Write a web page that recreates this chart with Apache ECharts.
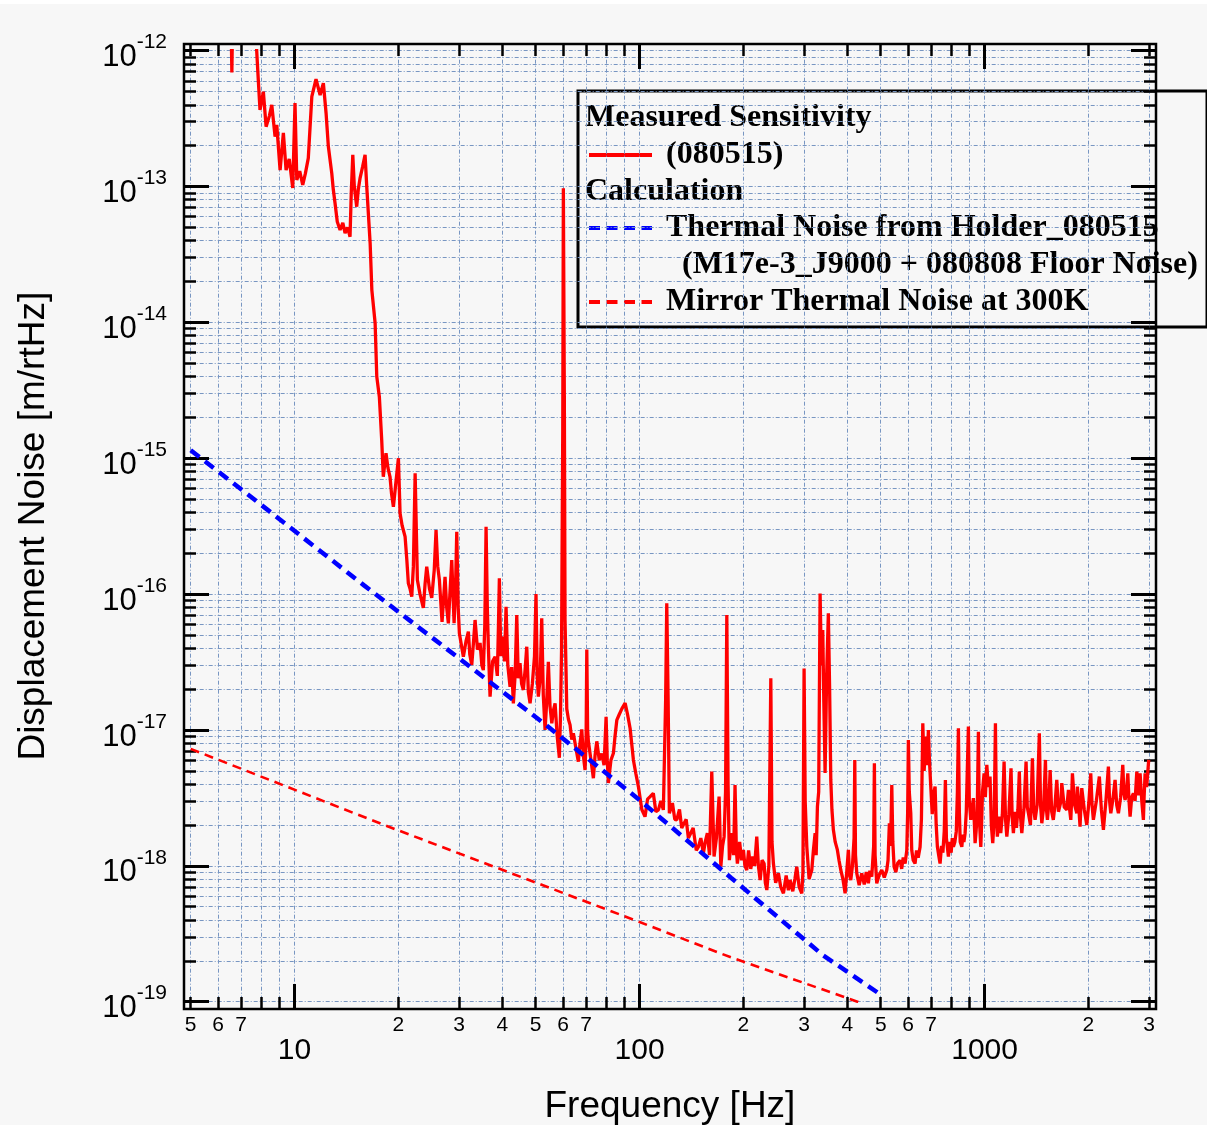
<!DOCTYPE html>
<html>
<head>
<meta charset="utf-8">
<title>Displacement Noise Spectrum</title>
<script src="https://cdn.jsdelivr.net/npm/echarts@6/dist/echarts.min.js"></script>
<style>
  html, body { margin: 0; padding: 0; background: #f7f7f7; }
  #chart { width: 1207px; height: 1125px; }
</style>
</head>
<body>
<div id="chart"></div>
<script>
// Measured displacement noise spectrum (080515): [frequency Hz, amplitude m/rtHz]
const measuredSpectrum = [
  [5.0, 3.0e-12], [6.0, 2.2e-12], [6.54, 2.0e-12], [6.58, 6.9e-13], [6.62, 2.0e-12], [7.4, 2.0e-12],
  [7.70, 1.5e-12], [7.85, 6.1e-13], [7.94, 3.66e-13], [8.12, 4.99e-13], [8.27, 2.76e-13], [8.45, 3.3e-13],
  [8.59, 3.99e-13], [8.78, 2.33e-13], [8.88, 2.84e-13], [9.08, 1.32e-13], [9.28, 2.48e-13], [9.45, 1.32e-13],
  [9.65, 1.6e-13], [9.88, 9.75e-14], [10.03, 4.12e-13], [10.15, 1.12e-13], [10.35, 1.3e-13], [10.56, 1.03e-13],
  [10.75, 1.25e-13], [10.96, 1.62e-13], [11.22, 4.59e-13], [11.54, 6.17e-13], [11.86, 4.72e-13], [12.12, 5.76e-13],
  [12.34, 3.48e-13], [12.53, 1.97e-13], [12.82, 1.25e-13], [12.95, 9.5e-14], [13.10, 7.56e-14], [13.3, 5.5e-14],
  [13.55, 4.79e-14], [13.8, 5.4e-14], [14.01, 4.55e-14], [14.25, 5.0e-14], [14.48, 4.27e-14], [14.6, 9.0e-14],
  [14.75, 1.71e-13], [14.9, 1.0e-13], [15.14, 7.11e-14], [15.3, 9.5e-14], [15.49, 1.16e-13], [15.75, 1.4e-13],
  [16.01, 1.71e-13], [16.19, 1.0e-13], [16.56, 3.84e-14], [16.75, 1.73e-14], [17.12, 9.9e-15], [17.31, 3.99e-15],
  [17.61, 2.84e-15], [17.89, 1.36e-15], [18.08, 7.31e-16], [18.25, 9.0e-16], [18.41, 1.09e-15], [18.65, 8.5e-16],
  [18.91, 7.31e-16], [19.1, 5.5e-16], [19.34, 4.40e-16], [19.65, 6.5e-16], [20.0, 1.0e-15], [20.22, 3.93e-16],
  [20.5, 3.2e-16], [20.91, 2.65e-16], [21.15, 1.8e-16], [21.37, 1.20e-16], [21.6, 1.1e-16], [21.86, 9.58e-17],
  [22.1, 1.6e-16], [22.36, 7.75e-16], [22.70, 1.27e-16], [23.1, 1.0e-16], [23.62, 7.91e-17], [23.9, 1.2e-16],
  [24.16, 1.59e-16], [24.6, 1.1e-16], [24.98, 9.37e-17], [25.4, 1.5e-16], [25.71, 2.96e-16], [26.0, 1.6e-16],
  [26.29, 1.27e-16], [26.76, 6.24e-17], [27.30, 1.34e-16], [27.6, 8.0e-17], [27.91, 6.10e-17], [28.2, 1.0e-16],
  [28.55, 1.78e-16], [29.0, 6.1e-17], [29.3, 1.2e-16], [29.52, 2.88e-16], [29.8, 8.0e-17], [30.04, 5.15e-17],
  [30.45, 4.2e-17], [30.85, 3.46e-17], [31.4, 4.5e-17], [31.90, 5.29e-17], [32.2, 3.6e-17], [32.63, 3.01e-17],
  [33.0, 4.4e-17], [33.36, 6.45e-17], [33.9, 3.9e-17], [34.49, 4.37e-17], [34.9, 3.0e-17], [35.25, 2.76e-17],
  [35.6, 6.0e-17], [35.90, 3.13e-16], [36.2, 8.0e-17], [36.45, 4.10e-17], [36.87, 1.76e-17], [37.5, 3.2e-17],
  [38.13, 3.46e-17], [38.7, 2.5e-17], [39.0, 6.0e-17], [39.23, 1.31e-16], [39.6, 3.5e-17], [40.13, 4.86e-17],
  [40.6, 3.2e-17], [41.02, 8.08e-17], [41.5, 3.0e-17], [42.13, 2.08e-17], [42.6, 2.9e-17], [43.07, 1.57e-17],
  [43.6, 2.6e-17], [44.06, 7.02e-17], [44.5, 2.4e-17], [45.03, 3.10e-17], [45.5, 2.2e-17], [46.04, 1.97e-17],
  [46.6, 2.8e-17], [47.10, 4.10e-17], [47.6, 1.9e-17], [48.15, 1.57e-17], [48.9, 2.2e-17], [49.6, 3.5e-17],
  [50.1, 1.0e-16], [50.5, 2.5e-17], [50.89, 1.76e-17], [51.5, 2.4e-17], [52.05, 6.64e-17], [52.6, 1.8e-17],
  [53.22, 1.0e-17], [53.8, 1.6e-17], [54.40, 3.18e-17], [55.0, 1.5e-17], [55.67, 1.12e-17], [56.3, 1.4e-17],
  [56.90, 1.57e-17], [57.7, 9.0e-18], [58.55, 6.25e-18], [59.0, 1.3e-17], [59.41, 3.88e-17], [59.89, 1.62e-15],
  [60.13, 9.7e-14], [60.53, 2.69e-15], [60.81, 6.45e-17], [61.52, 1.43e-17], [62.2, 1.2e-17], [62.88, 1.09e-17],
  [63.6, 8.5e-18], [64.28, 9.46e-18], [65.3, 7.5e-18], [66.46, 5.84e-18], [67.2, 8.0e-18], [67.99, 1.01e-17],
  [68.7, 6.5e-18], [69.50, 5.08e-18], [70.0, 9.0e-18], [70.31, 3.91e-17], [70.7, 1.0e-17], [71.06, 8.25e-18],
  [72.3, 6.0e-18], [73.47, 4.42e-18], [74.3, 6.5e-18], [75.16, 8.25e-18], [76.4, 6.0e-18], [77.71, 6.70e-18],
  [78.9, 5.5e-18], [79.98, 1.25e-17], [80.6, 6.0e-18], [81.21, 4.07e-18], [82.6, 6.0e-18], [83.97, 6.74e-18],
  [84.9, 9.0e-18], [85.90, 1.18e-17], [87.3, 1.3e-17], [88.82, 1.43e-17], [90.81, 1.58e-17], [92.3, 1.3e-17],
  [93.87, 1.03e-17], [95.96, 6.02e-18], [97.5, 4.8e-18], [99.22, 3.83e-18],
  [101.5, 2.6e-18], [103.7, 2.30e-18], [105.5, 3.1e-18], [107.3, 3.23e-18], [109.6, 3.42e-18], [111.5, 2.5e-18],
  [113.4, 2.58e-18], [115.3, 3.0e-18], [117.2, 2.58e-18], [119.0, 1.66e-17], [119.9, 8.56e-17], [121.0, 1.66e-17],
  [122.0, 2.44e-18], [124.5, 2.9e-18], [126.5, 2.2e-18], [128.2, 2.18e-18], [130.5, 2.6e-18], [132.5, 1.9e-18],
  [134.0, 1.94e-18], [136.5, 2.2e-18], [138.5, 1.6e-18], [140.1, 1.55e-18], [143.0, 1.9e-18], [146.0, 1.3e-18],
  [148.1, 1.38e-18], [150.5, 1.6e-18], [153.1, 1.24e-18], [155.0, 1.5e-18], [157.2, 1.74e-18], [159.5, 1.2e-18],
  [161.9, 4.94e-18], [164.4, 1.17e-18], [167.0, 1.6e-18], [170.0, 3.23e-18], [172.0, 9.86e-19], [174.0, 1.4e-18],
  [175.8, 1.64e-18], [177.5, 3.5e-18], [179.0, 7.02e-17], [180.5, 4.0e-18], [182.1, 1.10e-18], [185.0, 1.74e-18],
  [187.3, 1.2e-18], [189.1, 3.94e-18], [190.8, 1.3e-18], [192.1, 1.04e-18], [195.0, 1.5e-18], [197.5, 1.1e-18],
  [200.0, 1.31e-18], [202.0, 1.0e-18], [204.5, 9.32e-19], [207.0, 1.3e-18], [210.0, 9.5e-19], [212.8, 1.17e-18],
  [215.5, 1.0e-18], [218.6, 1.64e-18], [221.0, 1.0e-18], [223.6, 7.87e-19], [226.5, 1.1e-18], [229.6, 1.04e-18],
  [231.5, 7.5e-19], [233.8, 6.64e-19], [237.0, 1.0e-18], [240.1, 2.40e-17], [242.0, 1.5e-18], [244.3, 1.04e-18],
  [248.0, 7.5e-19], [252.6, 8.81e-19], [256.5, 7.0e-19], [261.2, 6.28e-19], [266.0, 8.5e-19], [270.0, 6.6e-19],
  [273.0, 7.87e-19], [278.0, 6.5e-19], [282.0, 8.0e-19], [285.5, 9.86e-19], [290.0, 7.0e-19], [295.2, 6.28e-19],
  [297.5, 9.0e-19], [299.8, 2.84e-17], [302.0, 3.0e-18], [305.3, 1.38e-18], [310.0, 8.0e-19], [315.6, 9.32e-19],
  [319.0, 1.3e-18], [322.7, 1.74e-18], [325.0, 1.2e-18], [327.7, 2.73e-18], [330.5, 3.5e-18], [333.6, 1.01e-16],
  [336.5, 3.0e-17], [339.6, 5.45e-17], [342.0, 1.6e-17], [344.9, 4.83e-18], [348.5, 2.5e-17], [352.5, 7.23e-17],
  [355.5, 2.0e-17], [358.3, 4.29e-18], [361.0, 2.6e-18], [364.5, 1.84e-18], [369.0, 1.5e-18], [374.4, 1.31e-18],
  [378.5, 1.1e-18], [383.0, 9.32e-19], [388.5, 8.0e-19], [394.2, 6.28e-19], [398.5, 9.0e-19], [402.9, 1.31e-18],
  [406.0, 8.5e-19], [409.4, 7.87e-19], [414.0, 1.0e-18], [418.5, 1.6e-18], [420.5, 6.02e-18], [422.5, 1.2e-18],
  [426.2, 8.81e-19], [433.0, 7.2e-19], [440.6, 8.81e-19], [448.0, 7.3e-19], [454.0, 9.0e-19], [460.4, 7.44e-19],
  [465.0, 9.2e-19], [471.0, 8.32e-19], [477.0, 1.4e-18], [479.3, 5.69e-18], [481.5, 1.2e-18], [486.9, 7.44e-19],
  [495.0, 8.6e-19], [503.5, 9.32e-19], [512.0, 8.2e-19], [520.6, 9.32e-19], [525.0, 1.1e-18], [529.7, 2.06e-18],
  [534.0, 1.4e-18], [538.3, 3.94e-18], [542.0, 1.5e-18], [546.7, 9.86e-19], [553.0, 9.0e-19], [560.0, 1.05e-18],
  [569.0, 1.10e-18], [575.0, 9.5e-19], [581.0, 1.15e-18], [588.3, 1.04e-18], [595.0, 1.3e-18], [598.5, 2.5e-18],
  [601.3, 8.45e-18], [605.0, 3.5e-18], [611.0, 2.44e-18], [615.0, 1.3e-18], [621.0, 1.1e-18], [628.8, 1.04e-18],
  [635.0, 1.3e-18], [642.0, 1.15e-18], [650.2, 1.38e-18], [656.0, 2.2e-18], [662.1, 1.12e-17], [668.0, 5.0e-18],
  [676.8, 8.93e-18], [681.0, 5.5e-18], [687.3, 1.0e-17], [692.0, 6.0e-18], [698.3, 3.83e-18], [705.0, 2.4e-18],
  [712.0, 3.4e-18], [718.7, 3.83e-18], [724.0, 2.0e-18], [729.8, 1.38e-18], [736.0, 1.2e-18], [743.0, 1.04e-18],
  [750.0, 1.4e-18], [757.0, 1.25e-18], [764.0, 1.8e-18], [769.8, 4.29e-18], [775.0, 1.6e-18], [785.4, 1.17e-18],
  [793.0, 1.5e-18], [800.0, 1.25e-18], [806.0, 1.6e-18], [812.1, 1.38e-18], [820.0, 1.5e-18], [828.0, 1.8e-18],
  [834.0, 3.5e-18], [839.7, 1.03e-17], [845.0, 2.5e-18], [850.0, 1.5e-18], [859.0, 1.38e-18], [865.0, 1.7e-18],
  [871.0, 1.5e-18], [878.0, 1.74e-18], [885.0, 2.5e-18], [890.0, 4.5e-18], [897.6, 1.06e-17], [903.0, 3.0e-18],
  [912.0, 2.18e-18], [920.0, 2.6e-18], [928.0, 3.15e-18], [933.0, 2.2e-18], [938.7, 1.47e-18], [945.0, 1.8e-18],
  [952.0, 2.4e-18], [959.6, 9.72e-18], [965.0, 2.3e-18], [975.0, 1.38e-18], [980.0, 2.0e-18], [986.0, 3.5e-18],
  [996.7, 4.80e-18], [1005, 3.2e-18], [1015, 5.53e-18], [1025, 3.8e-18], [1037, 4.54e-18], [1046, 2.0e-18],
  [1056, 1.47e-18], [1066, 2.2e-18], [1075, 1.12e-17], [1082, 2.4e-18], [1089, 1.64e-18], [1101, 2.3e-18],
  [1114, 1.74e-18], [1126, 2.4e-18], [1139, 5.85e-18], [1150, 2.2e-18], [1160, 1.64e-18], [1176, 2.4e-18],
  [1193, 5.23e-18], [1202, 2.3e-18], [1212, 1.74e-18], [1225, 2.5e-18], [1237, 1.9e-18], [1249, 2.6e-18],
  [1261, 4.94e-18], [1271, 2.3e-18], [1282, 1.74e-18], [1300, 2.6e-18], [1319, 5.85e-18], [1330, 2.7e-18],
  [1340, 2.44e-18], [1358, 2.0e-18], [1376, 6.19e-18], [1388, 2.6e-18], [1401, 2.18e-18], [1420, 2.8e-18],
  [1441, 9.46e-18], [1453, 2.8e-18], [1465, 2.06e-18], [1483, 2.7e-18], [1501, 6.02e-18], [1511, 2.6e-18],
  [1521, 2.18e-18], [1535, 2.9e-18], [1549, 5.08e-18], [1565, 2.5e-18], [1582, 2.18e-18], [1600, 2.8e-18],
  [1619, 4.29e-18], [1637, 2.5e-18], [1655, 2.44e-18], [1665, 3.0e-18], [1674, 4.06e-18], [1702, 2.7e-18],
  [1731, 2.58e-18], [1740, 3.1e-18], [1750, 3.62e-18], [1764, 2.6e-18], [1778, 2.18e-18], [1787, 3.0e-18],
  [1797, 4.80e-18], [1824, 2.8e-18], [1851, 2.44e-18], [1858, 3.83e-18], [1875, 2.7e-18], [1891, 1.94e-18],
  [1902, 2.8e-18], [1913, 3.73e-18], [1945, 2.6e-18], [1978, 2.0e-18], [2005, 2.9e-18], [2031, 4.80e-18],
  [2049, 2.8e-18], [2067, 2.18e-18], [2108, 3.0e-18], [2151, 4.54e-18], [2180, 2.6e-18], [2210, 1.84e-18],
  [2247, 3.0e-18], [2285, 5.37e-18], [2303, 3.0e-18], [2322, 2.44e-18], [2355, 3.1e-18], [2389, 4.29e-18],
  [2416, 2.8e-18], [2443, 2.44e-18], [2479, 3.2e-18], [2515, 5.53e-18], [2535, 3.4e-18], [2554, 3.05e-18],
  [2578, 3.5e-18], [2601, 4.80e-18], [2620, 3.1e-18], [2641, 2.30e-18], [2670, 3.2e-18], [2700, 3.42e-18],
  [2730, 3.0e-18], [2762, 4.94e-18], [2790, 3.3e-18], [2823, 4.80e-18], [2855, 3.0e-18], [2886, 2.18e-18],
  [2900, 3.2e-18], [2919, 4.80e-18], [2950, 3.8e-18], [2990, 6.02e-18]
];

// Calculated thermal noise from the holder (M17e-3_J9000 + 080808 floor noise)
const holderNoise = [
  [5, 1.146e-15], [8.6, 3.94e-16], [15.9, 1.16e-16], [29.3, 3.52e-17], [54, 1.07e-17],
  [100, 3.05e-18], [184, 8.18e-19], [340, 2.20e-19], [498, 1.135e-19]
];

// Calculated mirror thermal noise at 300 K
const mirrorNoise = [
  [5, 7.26e-18], [17.9, 2.03e-18], [100, 3.86e-19], [184, 2.12e-19], [428, 1.0e-19], [440, 9.7e-20]
];

// Axis ranges and tick layout
const freqRange = [5, 3000];
const ampRange = [1e-19, 1e-12];
const freqGridTicks = [5, 6, 7, 8, 9, 10, 20, 30, 40, 50, 60, 70, 80, 90, 100, 200, 300, 400, 500, 600, 700, 800, 900, 1000, 2000, 3000];
const freqDigitLabels = [5, 6, 7, 20, 30, 40, 50, 60, 70, 200, 300, 400, 500, 600, 700, 2000, 3000];
const freqDecadeLabels = [10, 100, 1000];
const ampDecadeExponents = [-19, -18, -17, -16, -15, -14, -13, -12];
const ampMantissas = [1, 2, 3, 4, 5, 6, 7, 8, 9];

const lg = v => Math.log10(v);
const toLog = pts => pts.map(p => [lg(p[0]), lg(p[1])]);

const xMinorVals = freqGridTicks.map(lg);
const xDigitVals = freqDigitLabels.map(lg);
const xDecadeVals = freqDecadeLabels.map(lg);
const yMajorVals = ampDecadeExponents.slice();
const yMinorVals = [];
ampDecadeExponents.forEach((e, i) => {
  if (i === ampDecadeExponents.length - 1) { yMinorVals.push(e); return; }
  ampMantissas.forEach(m => yMinorVals.push(e + lg(m)));
});

const SANS = '"Liberation Sans", Arial, sans-serif';
const SERIF = '"Liberation Serif", "Times New Roman", serif';
const GRID_COLOR = '#7896c2';
const GRID_STYLE = { color: GRID_COLOR, width: 1, type: [4, 2, 1, 2] };
const MINOR_TICK = { color: '#000', width: 2.5 };
const MAJOR_TICK = { color: '#000', width: 3 };

const xBase = { type: 'value', min: lg(freqRange[0]), max: lg(freqRange[1]), gridIndex: 0, nameMoveOverlap: false };
const yBase = { type: 'value', min: lg(ampRange[0]), max: lg(ampRange[1]), gridIndex: 0, nameMoveOverlap: false };

const digitFormatter = v => {
  const f = Math.pow(10, v);
  const d = Math.pow(10, Math.floor(v + 1e-9));
  return String(Math.round(f / d));
};

const legendFont = { fontFamily: SERIF, fontWeight: 'bold', fontSize: 32, fill: '#000', verticalAlign: 'middle' };
const legendText = (x, y, text) => ({ type: 'text', x, y, style: Object.assign({ text }, legendFont) });

const option = {
  animation: false,
  backgroundColor: '#f7f7f7',
  grid: { left: 190.7, right: 57.8, top: 50.7, bottom: 123.3, containLabel: false, outerBoundsMode: 'none' },
  xAxis: [
    Object.assign({}, xBase, {
      position: 'bottom', offset: 7.3,
      axisLine: { show: false },
      axisTick: { show: true, inside: true, length: 12, customValues: xMinorVals, lineStyle: MINOR_TICK },
      splitLine: { show: true, lineStyle: GRID_STYLE },
      axisLabel: { show: true, customValues: xDigitVals, formatter: digitFormatter, fontSize: 21, fontFamily: SANS, color: '#000', margin: 6 },
      name: 'Frequency [Hz]', nameLocation: 'middle', nameGap: 79,
      nameTextStyle: { fontSize: 37, fontFamily: SANS, color: '#000' }
    }),
    Object.assign({}, xBase, {
      position: 'bottom', offset: 7.3,
      axisLine: { show: false },
      axisTick: { show: true, inside: true, length: 25, customValues: xDecadeVals, lineStyle: MAJOR_TICK },
      splitLine: { show: false },
      axisLabel: { show: true, customValues: xDecadeVals, formatter: v => String(Math.round(Math.pow(10, v))), fontSize: 30, fontFamily: SANS, color: '#000', margin: 27 }
    }),
    Object.assign({}, xBase, {
      position: 'top', offset: 6.7,
      axisLine: { show: false },
      axisTick: { show: true, inside: true, length: 12, customValues: xMinorVals, lineStyle: MINOR_TICK },
      splitLine: { show: false }, axisLabel: { show: false }
    }),
    Object.assign({}, xBase, {
      position: 'top', offset: 6.7,
      axisLine: { show: false },
      axisTick: { show: true, inside: true, length: 25, customValues: xDecadeVals, lineStyle: MAJOR_TICK },
      splitLine: { show: false }, axisLabel: { show: false }
    })
  ],
  yAxis: [
    Object.assign({}, yBase, {
      position: 'left', offset: 6.7,
      axisLine: { show: false },
      axisTick: { show: true, inside: true, length: 12, customValues: yMinorVals, lineStyle: MINOR_TICK },
      splitLine: { show: true, lineStyle: GRID_STYLE },
      axisLabel: { show: false },
      name: 'Displacement Noise [m/rtHz]', nameLocation: 'middle', nameGap: 132, nameRotate: 90,
      nameTextStyle: { fontSize: 37, fontFamily: SANS, color: '#000' }
    }),
    Object.assign({}, yBase, {
      position: 'left', offset: 6.7,
      axisLine: { show: false },
      axisTick: { show: true, inside: true, length: 25, customValues: yMajorVals, lineStyle: MAJOR_TICK },
      splitLine: { show: false },
      axisLabel: {
        show: true, customValues: yMajorVals, margin: 17, padding: [14, 0, 0, 0],
        formatter: v => '{b|10}{s|' + Math.round(v) + '}',
        rich: {
          b: { fontSize: 31, fontFamily: SANS, color: '#000', lineHeight: 31, verticalAlign: 'bottom' },
          s: { fontSize: 21, fontFamily: SANS, color: '#000', lineHeight: 21, verticalAlign: 'bottom', padding: [0, 0, 20, 0] }
        }
      }
    }),
    Object.assign({}, yBase, {
      position: 'right', offset: 6.8,
      axisLine: { show: false },
      axisTick: { show: true, inside: true, length: 12, customValues: yMinorVals, lineStyle: MINOR_TICK },
      splitLine: { show: false }, axisLabel: { show: false }
    }),
    Object.assign({}, yBase, {
      position: 'right', offset: 6.8,
      axisLine: { show: false },
      axisTick: { show: true, inside: true, length: 25, customValues: yMajorVals, lineStyle: MAJOR_TICK },
      splitLine: { show: false }, axisLabel: { show: false }
    })
  ],
  series: [
    {
      name: '(080515)', type: 'line', xAxisIndex: 0, yAxisIndex: 0,
      data: toLog(measuredSpectrum),
      symbol: 'none', showSymbol: false, clip: true, silent: true, z: 3,
      lineStyle: { color: '#ff0000', width: 3.3 }
    },
    {
      name: 'Thermal Noise from Holder_080515', type: 'line', xAxisIndex: 0, yAxisIndex: 0,
      data: toLog(holderNoise),
      symbol: 'none', showSymbol: false, clip: true, silent: true, z: 4,
      lineStyle: { color: '#0000ff', width: 4.5, type: [11, 7] }
    },
    {
      name: 'Mirror Thermal Noise at 300K', type: 'line', xAxisIndex: 0, yAxisIndex: 0,
      data: toLog(mirrorNoise),
      symbol: 'none', showSymbol: false, clip: true, silent: true, z: 4,
      lineStyle: { color: '#ff0000', width: 2.6, type: [9, 6] }
    }
  ],
  graphic: [
    { type: 'rect', silent: true, z: 50, shape: { x: 0, y: 0, width: 1207, height: 4 }, style: { fill: '#ffffff' } },
    // plot frame
    { type: 'rect', silent: true, z: 50, shape: { x: 184, y: 44, width: 972, height: 965 }, style: { fill: 'none', stroke: '#000', lineWidth: 2.5 } },
    // legend box
    {
      type: 'group', z: 100, silent: true,
      children: [
        { type: 'rect', shape: { x: 578, y: 91, width: 629, height: 236 }, style: { fill: '#f7f7f7', stroke: '#000', lineWidth: 3 } },
        legendText(585, 118, 'Measured Sensitivity'),
        { type: 'line', shape: { x1: 589, y1: 155, x2: 652, y2: 155 }, style: { stroke: '#ff0000', lineWidth: 4 } },
        legendText(666, 155, '(080515)'),
        legendText(585, 192, 'Calculation'),
        { type: 'line', shape: { x1: 589, y1: 228, x2: 652, y2: 228 }, style: { stroke: '#0000ff', lineWidth: 4, lineDash: [11, 6.5] } },
        legendText(666, 228, 'Thermal Noise from Holder_080515'),
        legendText(682, 265, '(M17e-3_J9000 + 080808 Floor Noise)'),
        { type: 'line', shape: { x1: 589, y1: 302, x2: 652, y2: 302 }, style: { stroke: '#ff0000', lineWidth: 4, lineDash: [11, 6.5] } },
        legendText(666, 302, 'Mirror Thermal Noise at 300K')
      ]
    }
  ]
};

const chart = echarts.init(document.getElementById('chart'), null, { renderer: 'canvas' });
chart.setOption(option);
</script>
</body>
</html>
